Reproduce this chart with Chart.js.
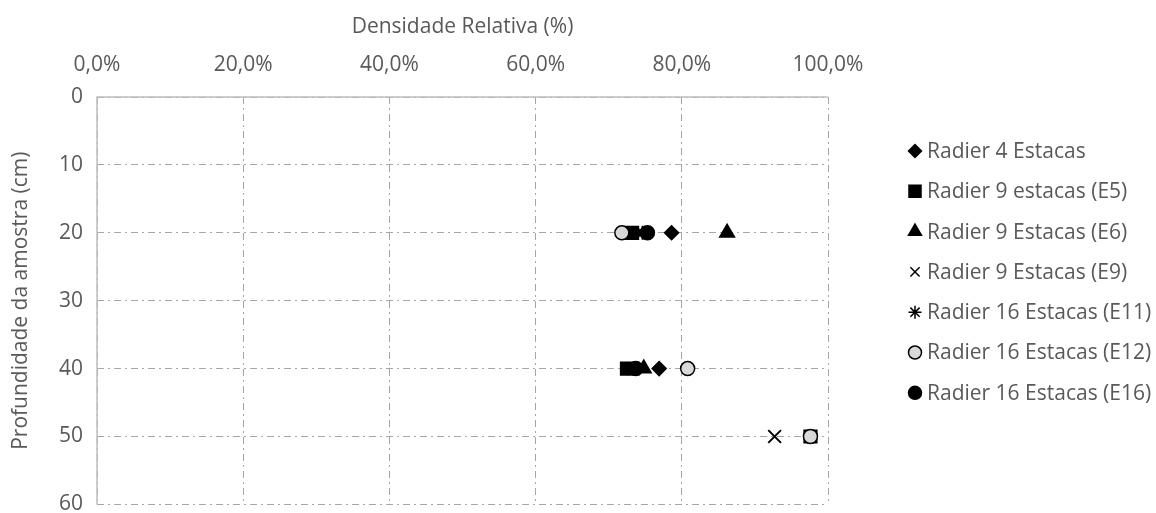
<!DOCTYPE html>
<html>
<head>
<meta charset="utf-8">
<script src="https://cdn.jsdelivr.net/npm/chart.js@4.4.1/dist/chart.umd.min.js"></script>
<style>
  html, body { margin: 0; padding: 0; background: #fff; overflow: hidden; }
  #wrap { position: relative; width: 1156px; height: 513px; overflow: hidden; }
</style>
</head>
<body>
<div id="wrap"><canvas id="grafico" width="1156" height="531"></canvas></div>
<script>
// series labels and values (x = densidade relativa %, y = profundidade cm)
var seriesNames = ['Radier 4 Estacas', 'Radier 9 estacas (E5)', 'Radier 9 Estacas (E6)', 'Radier 9 Estacas (E9)',
    'Radier 16 Estacas (E11)', 'Radier 16 Estacas (E12)', 'Radier 16 Estacas (E16)'];

var radier4 = [{x: 78.6, y: 20}, {x: 76.9, y: 40}];
var radierE5 = [{x: 73.2, y: 20}, {x: 72.5, y: 40}, {x: 97.6, y: 50}];
var radierE6 = [{x: 86.2, y: 20}, {x: 74.8, y: 40}];
var radierE9 = [{x: 74.0, y: 20}, {x: 73.4, y: 40}, {x: 92.7, y: 50}];
var radierE11 = [{x: 74.6, y: 20}, {x: 73.6, y: 40}];
var radierE12 = [{x: 71.8, y: 20}, {x: 80.8, y: 40}, {x: 97.6, y: 50}];
var radierE16 = [{x: 75.3, y: 20}, {x: 73.7, y: 40}];

var xTicks = [0, 20, 40, 60, 80, 100];
var yTicks = [0, 10, 20, 30, 40, 50, 60];

var fonte = "'Open Sans', Lato, sans-serif";
var tamanho = 21;
var cinzaTexto = '#595959';
var cinzaGrade = '#a6a6a6';
var cinzaEixo = '#bfbfbf';

function serie(label, data, style, radius, fill) {
    return {
        label: label,
        data: data,
        pointStyle: style,
        pointRadius: radius,
        pointHoverRadius: radius,
        backgroundColor: fill,
        borderColor: '#000',
        pointBorderWidth: style == 'crossRot' ? 2 : 1.5,
        showLine: false
    };
}

var datasets = [
    serie(seriesNames[0], radier4, 'rectRot', 7, '#000'),
    serie(seriesNames[1], radierE5, 'rect', 9, '#000'),
    serie(seriesNames[2], radierE6, 'triangle', 8.5, '#000'),
    serie(seriesNames[3], radierE9, 'crossRot', 9, '#000'),
    serie(seriesNames[4], radierE11, 'star', 7, '#000'),
    serie(seriesNames[5], radierE12, 'circle', 7, '#d9d9d9'),
    serie(seriesNames[6], radierE16, 'circle', 7, '#000')
];
// Excel draws later series on top
datasets.forEach(function (d, i) { d.order = datasets.length - i; });

// legend drawn on the canvas at the right side
var legendaPlugin = {
    id: 'legenda',
    afterDraw: function (chart) {
        var ctx = chart.ctx;
        ctx.save();
        ctx.font = tamanho + 'px ' + fonte;
        ctx.textBaseline = 'middle';
        ctx.textAlign = 'left';
        chart.data.datasets.forEach(function (ds, i) {
            var y = 151 + i * 40.3;
            var r = ds.pointStyle == 'rect' ? 8.5 : (ds.pointStyle == 'triangle' ? 7.5 : 6.5);
            ctx.fillStyle = ds.backgroundColor;
            ctx.strokeStyle = '#000';
            ctx.lineWidth = 1.5;
            Chart.helpers.drawPoint(ctx, {pointStyle: ds.pointStyle, radius: r, rotation: 0, borderWidth: 1.5}, 915, y);
            ctx.fillStyle = cinzaTexto;
            ctx.fillText(ds.label, 927, y + 1);
        });
        ctx.restore();
    }
};

new Chart(document.getElementById('grafico'), {
    type: 'scatter',
    data: {datasets: datasets},
    options: {
        responsive: false,
        animation: false,
        layout: {padding: {left: 0, right: 328, top: 0, bottom: 0}},
        plugins: {
            legend: {display: false},
            tooltip: {enabled: false}
        },
        scales: {
            x: {
                type: 'linear',
                position: 'top',
                min: 0,
                max: 100,
                afterBuildTicks: function (s) { s.ticks = xTicks.map(function (v) { return {value: v}; }); },
                afterFit: function (s) { s.height = 97; },
                ticks: {
                    color: cinzaTexto,
                    font: {family: fonte, size: tamanho},
                    padding: 19,
                    maxRotation: 0,
                    callback: function (v) { return v.toFixed(1).replace('.', ',') + '%'; }
                },
                grid: {color: cinzaGrade, lineWidth: 1, drawTicks: false},
                border: {display: false, dash: [7, 4, 2, 4]},
                title: {
                    display: true,
                    text: 'Densidade Relativa (%)',
                    color: cinzaTexto,
                    font: {family: fonte, size: tamanho},
                    padding: {top: 14, bottom: 4}
                }
            },
            y: {
                type: 'linear',
                reverse: true,
                min: 0,
                max: 60,
                afterBuildTicks: function (s) { s.ticks = yTicks.map(function (v) { return {value: v}; }); },
                afterFit: function (s) { s.width = 97; },
                ticks: {
                    color: cinzaTexto,
                    font: {family: fonte, size: tamanho},
                    padding: 14
                },
                grid: {color: cinzaGrade, lineWidth: 1, drawTicks: false},
                border: {display: false, dash: [7, 4, 2, 4]},
                title: {
                    display: true,
                    text: 'Profundidade da amostra (cm)',
                    color: cinzaTexto,
                    font: {family: fonte, size: tamanho},
                    padding: {top: 8, bottom: 4}
                }
            }
        }
    },
    plugins: [legendaPlugin, {
        id: 'eixos',
        // solid axis lines on left and top, as in the original
        beforeDatasetsDraw: function (chart) {
            var a = chart.chartArea, ctx = chart.ctx;
            ctx.save();
            ctx.strokeStyle = cinzaEixo;
            ctx.lineWidth = 1.5;
            ctx.beginPath();
            ctx.moveTo(a.left, a.bottom);
            ctx.lineTo(a.left, a.top);
            ctx.lineTo(a.right, a.top);
            ctx.stroke();
            ctx.restore();
        }
    }]
});
</script>
</body>
</html>
